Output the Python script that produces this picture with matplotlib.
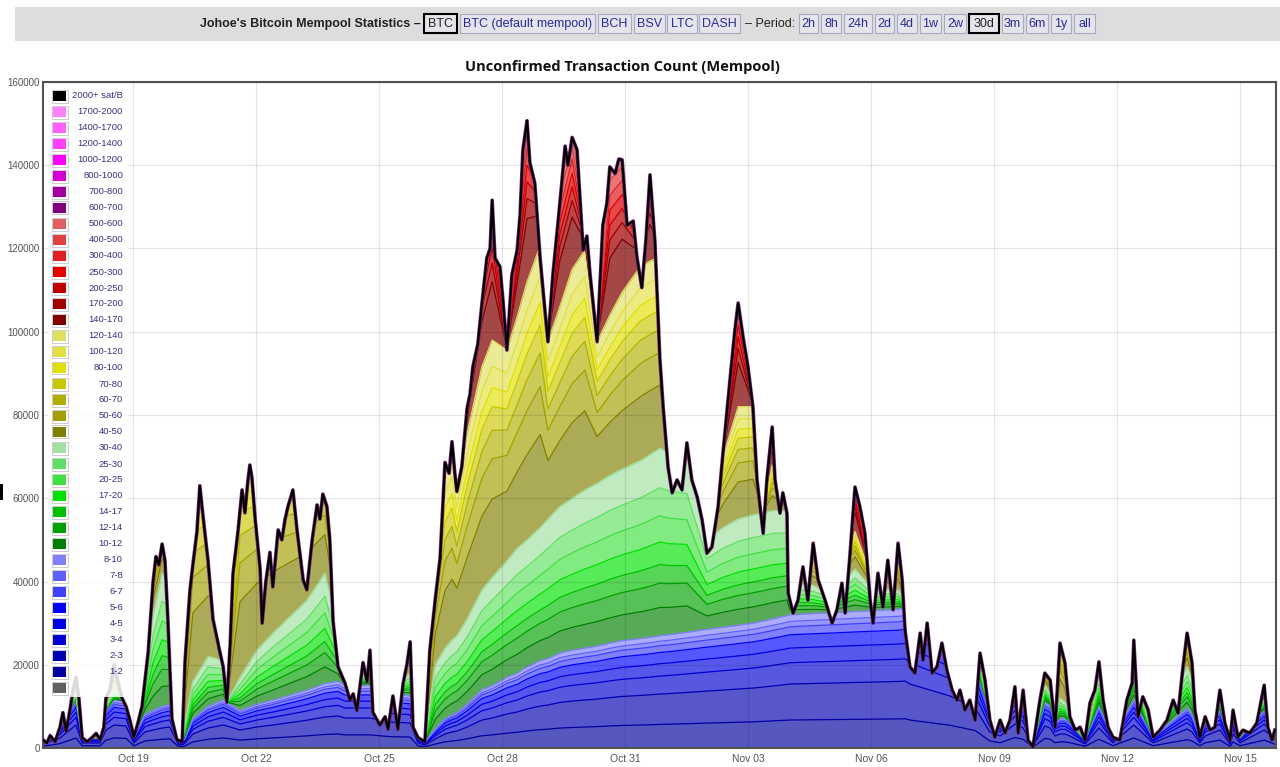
import numpy as np
import datetime as dt
import matplotlib
matplotlib.use("Agg")
import matplotlib.pyplot as plt
import matplotlib.dates as mdates
from matplotlib.patches import Rectangle
from matplotlib.colors import to_rgb

plt.rcParams['font.family'] = ['Liberation Sans', 'DejaVu Sans']

# ---------------- data ----------------
start = dt.datetime(2020, 10, 16)

legend_labels = ['2000+ sat/B', '1700-2000', '1400-1700', '1200-1400', '1000-1200', '800-1000',
                 '700-800', '600-700', '500-600', '400-500', '300-400', '250-300', '200-250',
                 '170-200', '140-170', '120-140', '100-120', '80-100', '70-80', '60-70', '50-60',
                 '40-50', '30-40', '25-30', '20-25', '17-20', '14-17', '12-14', '10-12', '8-10',
                 '7-8', '6-7', '5-6', '4-5', '3-4', '2-3', '1-2', '']
band_colors = ['#000000', '#ff80ff', '#ff60ff', '#ff40ff', '#ff00ff', '#d000d0', '#a000a0', '#800080',
               '#e06060', '#e04040', '#e02020', '#e00000', '#c00000', '#a00000', '#800000',
               '#e0e060', '#e0e040', '#e0e000', '#c8c800', '#b0b000', '#a0a000', '#808000',
               '#a0e0a0', '#60e060', '#40e040', '#00e000', '#00c000', '#00a000', '#008000',
               '#8080ff', '#6060ff', '#4040ff', '#0000ff', '#0000e0', '#0000d0', '#0000b0', '#0000a0',
               '#606060']

# total unconfirmed transactions (days since Oct 16 00:00)
total_days = [0.80, 0.90, 0.98, 1.10, 1.22, 1.29, 1.37, 1.46, 1.54, 1.61, 1.68, 1.76, 1.88, 2.00, 2.10,
              2.20, 2.29, 2.34, 2.44, 2.54, 2.63, 2.73, 2.83, 2.93, 3.02, 3.12, 3.22, 3.37, 3.49, 3.56,
              3.63, 3.71, 3.78, 3.85, 3.95, 4.07, 4.20, 4.27, 4.39, 4.46, 4.56, 4.63, 4.71, 4.83, 4.95,
              5.12, 5.20, 5.29, 5.37, 5.44, 5.56, 5.66, 5.73, 5.80, 5.85, 5.90, 5.98, 6.10, 6.15, 6.24,
              6.34, 6.41, 6.54, 6.63, 6.71, 6.78, 6.90, 7.00, 7.15, 7.24, 7.37, 7.49, 7.56, 7.63, 7.73,
              7.80, 7.88, 8.00, 8.17, 8.29, 8.37, 8.46, 8.61, 8.71, 8.78, 8.85, 9.02, 9.15, 9.22, 9.34,
              9.46, 9.59, 9.68, 9.76, 9.83, 9.95, 10.12, 10.24, 10.37, 10.49, 10.61, 10.71, 10.78, 10.85,
              10.90, 11.02, 11.15, 11.22, 11.29, 11.41, 11.51, 11.63, 11.71, 11.76, 11.83, 11.95, 12.02,
              12.12, 12.24, 12.37, 12.44, 12.51, 12.61, 12.68, 12.80, 12.93, 13.02, 13.12, 13.24, 13.41,
              13.54, 13.61, 13.71, 13.83, 13.98, 14.07, 14.15, 14.32, 14.46, 14.56, 14.63, 14.76, 14.85,
              14.93, 15.05, 15.20, 15.29, 15.41, 15.51, 15.61, 15.73, 15.85, 15.93, 16.05, 16.15, 16.27,
              16.39, 16.51, 16.63, 16.76, 16.88, 17.00, 17.12, 17.27, 17.39, 17.56, 17.68, 17.76, 17.88,
              18.00, 18.12, 18.22, 18.37, 18.46, 18.59, 18.66, 18.78, 18.85, 18.95, 18.98, 19.10, 19.22,
              19.34, 19.46, 19.59, 19.71, 19.88, 20.05, 20.17, 20.29, 20.37, 20.49, 20.61, 20.73, 20.85,
              20.98, 21.05, 21.17, 21.29, 21.41, 21.54, 21.66, 21.76, 21.83, 21.95, 22.07, 22.20, 22.27,
              22.37, 22.49, 22.61, 22.73, 22.85, 22.98, 23.10, 23.17, 23.29, 23.41, 23.54, 23.66, 23.78,
              23.90, 24.02, 24.15, 24.27, 24.39, 24.51, 24.59, 24.71, 24.83, 24.95, 25.12, 25.24, 25.37,
              25.49, 25.61, 25.73, 25.85, 25.98, 26.10, 26.22, 26.34, 26.46, 26.56, 26.66, 26.78, 26.90,
              27.07, 27.24, 27.37, 27.41, 27.51, 27.63, 27.76, 27.88, 28.05, 28.22, 28.37, 28.49, 28.61,
              28.71, 28.83, 28.90, 29.02, 29.15, 29.27, 29.39, 29.51, 29.63, 29.76, 29.83, 29.95, 30.07,
              30.24, 30.41, 30.59, 30.68, 30.78, 30.85]
total_count = [2000, 1200, 3000, 1500, 5000, 8500, 4000, 9000, 14000, 17000, 12000, 2500, 1500, 2500, 3500,
               2000, 5000, 12000, 14000, 20000, 16000, 12000, 10000, 6500, 2600, 6000, 10000, 23000, 40000, 46000,
               44000, 49000, 45000, 31000, 7000, 2000, 1500, 21000, 38000, 44000, 52000, 63000, 55500, 45000, 31000,
               23000, 19500, 11000, 25000, 42000, 52000, 62000, 56500, 64000, 68000, 65000, 55000, 43000, 30000, 40000,
               47000, 38700, 52400, 50000, 55000, 58000, 62000, 52400, 40400, 38000, 50000, 58400, 55000, 61000, 58000,
               50000, 30500, 19500, 15600, 11500, 13000, 9000, 20500, 16000, 23500, 8600, 5500, 7500, 4500, 12500,
               4500, 15600, 20000, 25500, 5000, 2500, 1500, 23500, 35500, 45600, 68600, 66000, 73600, 66000,
               61600, 67600, 81700, 85000, 91600, 97000, 106700, 117700, 120000, 131600, 117700, 115600, 108000,
               95600, 113600, 119600, 128000, 143700, 150700, 140600, 135700, 117700, 108000, 97600, 113600, 130700,
               144600, 140000, 146700, 143700, 119600, 123000, 113600, 97600, 125600, 131000, 139600, 138000, 141500,
               141300, 125600, 126600, 118000, 110600, 122000, 137700, 121600, 93600, 82000, 67500, 61300, 64400,
               62000, 73300, 64400, 60300, 54800, 46800, 48300, 57900, 70900, 88400, 100400, 106900, 98700,
               91500, 81900, 64400, 51600, 64400, 77100, 64400, 56400, 61300, 56400, 37200, 32400, 35500,
               43500, 35500, 49200, 40400, 35500, 30000, 33200, 39600, 32400, 46800, 62700, 57900, 51600,
               35500, 30000, 42000, 33900, 45100, 33200, 49200, 40400, 28300, 19500, 18000, 27600, 21100,
               30000, 18000, 19500, 25200, 18700, 13900, 11500, 13900, 9100, 11500, 6700, 22800, 16300,
               6700, 2600, 6700, 3600, 6700, 14700, 3600, 13900, 1900, 300, 11500, 18000, 16300,
               5000, 25200, 20400, 7500, 4300, 5000, 1900, 10800, 13900, 20700, 11500, 5000, 2600,
               1900, 11500, 15600, 25900, 7500, 12300, 9100, 2600, 4300, 6700, 11500, 8400, 19500,
               27600, 20400, 9100, 2600, 7500, 4300, 5000, 13900, 6000, 1900, 9100, 2600, 4300,
               3600, 6000, 15100, 5000, 1900, 4300]

# cumulative tops of the fee groups (blue <10, green <40, yellow <140, red <600 sat/B)
layer_days = [0.80, 1.22, 1.61, 1.76, 2.20, 2.34, 2.54, 2.83, 3.02, 3.29, 3.49, 3.71, 3.90, 4.10, 4.20,
              4.27, 4.46, 4.83, 5.20, 5.29, 5.61, 6.02, 6.41, 7.24, 7.68, 8.00, 8.17, 8.78, 9.27, 9.76,
              9.95, 10.12, 10.37, 10.61, 10.78, 10.90, 11.15, 11.51, 11.76, 12.12, 12.37, 12.61, 12.93,
              13.12, 13.41, 13.71, 14.02, 14.32, 14.63, 14.93, 15.37, 15.61, 15.85, 16.05, 16.51, 17.00,
              17.39, 17.76, 18.12, 18.37, 18.59, 18.95, 19.02, 19.59, 20.05, 20.61, 21.05, 21.66, 21.83,
              21.95, 22.93, 23.54, 23.66, 23.90, 24.15, 24.51, 24.71, 24.95, 25.24, 25.37, 25.49, 25.61,
              25.73, 25.85, 26.22, 26.56, 26.90, 27.41, 27.88, 28.71, 28.83, 29.02, 29.15, 29.51, 29.76,
              29.83, 30.00, 30.59, 30.85]
blue_top = [2000, 5000, 11500, 2500, 2500, 9000, 11500, 11000, 2600, 8000, 9000, 10000, 10500, 1800, 1500,
            2500, 7000, 10000, 11500, 11000, 9000, 10500, 11500, 13900, 15500, 16000, 15000, 15000, 13000, 12500,
            2500, 1500, 4500, 7000, 8000, 8500, 10500, 14000, 15000, 17000, 18000, 19500, 21000,
            21500, 22800, 23500, 24000, 24500, 25200, 25800, 26300, 26600, 27000, 27200, 27800, 28500,
            29000, 29500, 30000, 30500, 31000, 31800, 32000, 32300, 32500, 32800, 33000, 33300, 33500,
            32000, 26000, 20000, 16000, 8000, 6000, 12000, 10000, 1000, 11000, 10000, 6000, 7000,
            7000, 6000, 2000, 10000, 2600, 11500, 2600, 9500, 8000, 2600, 6000, 9000, 1900,
            7000, 2600, 9000, 4300]
green_top = [2000, 5500, 13000, 2500, 2500, 10000, 14000, 12000, 2600, 16000, 32000, 42000, 40000, 1800, 1500,
             6000, 16000, 22000, 21000, 11000, 17000, 23500, 27600, 35500, 42000, 28000, 17000, 18000, 14000, 18000,
             2500, 1500, 20000, 24000, 26000, 27000, 31000, 38000, 41000, 45000, 48000, 50000, 53000,
             55000, 58000, 60000, 62000, 63600, 65500, 67000, 69000, 70500, 72000, 71000, 70000, 50000,
             53000, 55000, 56000, 56500, 57000, 57000, 40000, 39000, 37000, 43000, 38000, 38000, 35000,
             33000, 27000, 21000, 20000, 8500, 6500, 14000, 11000, 1000, 15000, 13000, 6500, 12000,
             11000, 7000, 2000, 17000, 2600, 20000, 2600, 19500, 16000, 2600, 6500, 12000, 1900,
             8000, 2600, 12000, 4300]
yellow_top = [3000, 9500, 18000, 3000, 3000, 12500, 21000, 14000, 4000, 24000, 44000, 52000, 50000, 2500, 2000,
              22000, 66000, 66000, 66000, 12000, 72000, 72000, 72000, 70000, 70000, 40000, 22000, 25000, 17000, 27000,
              3000, 1800, 42000, 66000, 70000, 61600, 75600, 91600, 98000, 95600, 103600, 112000, 120600,
              97600, 106000, 115000, 119600, 97600, 104000, 109500, 115600, 117000, 118000, 75000, 73000, 52000,
              70000, 82000, 82000, 57000, 68000, 60000, 42000, 46000, 40000, 52000, 40000, 46000, 36000,
              34000, 28000, 22000, 24000, 9000, 8000, 16000, 14500, 1500, 19000, 17000, 7000, 26000,
              21000, 8000, 2500, 22000, 3000, 27000, 3000, 26000, 21000, 3000, 8000, 14500, 2500,
              9500, 3000, 16000, 5000]
red_top = [3000, 9500, 18000, 3000, 3000, 12500, 21000, 14000, 4000, 24000, 44000, 52000, 50000, 2500, 2000,
           22000, 66000, 66000, 66000, 12000, 72000, 72000, 72000, 70000, 70000, 40000, 22000, 25000, 17000, 27000,
           3000, 1800, 42000, 70000, 76000, 62000, 85000, 120000, 135000, 97000, 125000, 152000, 140000,
           99000, 135000, 148000, 125000, 99000, 140000, 143000, 125000, 140000, 125000, 76000, 75000, 52000,
           72000, 110000, 84000, 57000, 80000, 62000, 42000, 50000, 40000, 64000, 40000, 50000, 36000,
           34000, 28000, 22000, 24000, 9000, 8000, 16000, 14500, 1500, 19000, 17000, 7000, 26000,
           21000, 8000, 2500, 22000, 3000, 27000, 3000, 28000, 21000, 3000, 8000, 14500, 2500,
           9500, 3000, 16000, 5000]

# cumulative share of each fee band inside its group (bottom -> top)
blue_shares = [0.005, 0.21, 0.48, 0.64, 0.75, 0.85, 0.91, 0.95, 1.0]     # 0-1 .. 8-10
green_shares = [0.15, 0.28, 0.38, 0.50, 0.64, 0.79, 1.0]               # 10-12 .. 30-40
yellow_shares = [0.33, 0.50, 0.62, 0.72, 0.80, 0.89, 1.0]              # 40-50 .. 120-140
red_shares = [0.38, 0.50, 0.60, 0.70, 0.80, 0.90, 1.0]                 # 140-170 .. 500-600

y_ticks = [0, 20000, 40000, 60000, 80000, 100000, 120000, 140000, 160000]
x_tick_dates = ['2020-10-19', '2020-10-22', '2020-10-25', '2020-10-28', '2020-10-31',
                '2020-11-03', '2020-11-06', '2020-11-09', '2020-11-12', '2020-11-15']
x_tick_labels = ['Oct 19', 'Oct 22', 'Oct 25', 'Oct 28', 'Oct 31',
                 'Nov 03', 'Nov 06', 'Nov 09', 'Nov 12', 'Nov 15']
x_range_days = [0.805, 30.878]

coins = ['BTC', 'BTC (default mempool)', 'BCH', 'BSV', 'LTC', 'DASH']
periods = ['2h', '8h', '24h', '2d', '4d', '1w', '2w', '30d', '3m', '6m', '1y', 'all']

# ---------------- figure ----------------
W, H = 1280, 767
fig = plt.figure(figsize=(W / 100, H / 100), dpi=100)
fig.patch.set_facecolor('white')


def fx(x):
    return x / W


def fy(y):
    return 1 - y / H


def soft(c, a=0.66):
    r = np.array(to_rgb(c))
    return tuple(1 - a + a * r)


ax = fig.add_axes([fx(43), fy(748), (1276 - 43) / W, (748 - 82) / H])

t0 = mdates.date2num(start)
TT = t0 + np.array(total_days)
TL = t0 + np.array(layer_days)
total = np.array(total_count, float)

B = np.array(blue_top, float)
G = np.array(green_top, float)
Y = np.array(yellow_top, float)
R = np.array(red_top, float)
cum = [B * s for s in blue_shares]
cum += [B + (G - B) * s for s in green_shares]
cum += [G + (Y - G) * s for s in yellow_shares]
cum += [Y + (R - Y) * s for s in red_shares]
colors_up = band_colors[::-1]  # bottom -> top

base = ax.fill_between(TT, 0, total, color=soft(colors_up[29], 0.72), lw=0, zorder=1)
clip = base.get_paths()[0]

for i in range(len(cum) - 1, -1, -1):
    a = 0.72 if i >= 23 else 0.66
    f = ax.fill_between(TL, 0, cum[i], color=soft(colors_up[i], a), lw=0, zorder=1)
    f.set_clip_path(clip, ax.transData)
for i in range(1, len(cum)):
    ln, = ax.plot(TL, cum[i], color=colors_up[i], lw=0.9, zorder=1.5)
    ln.set_clip_path(clip, ax.transData)

ax.plot(TT, total, color='#7a2a7a', lw=2.6, zorder=3, solid_joinstyle='round')
ax.plot(TT, total, color='black', lw=1.6, zorder=3.1, solid_joinstyle='round')

ax.set_xlim(t0 + x_range_days[0], t0 + x_range_days[1])
ax.set_ylim(0, 160000)
ax.set_yticks(y_ticks)
ax.set_yticklabels([str(v) for v in y_ticks])
ax.set_xticks([mdates.date2num(dt.datetime.strptime(d, '%Y-%m-%d')) for d in x_tick_dates])
ax.set_xticklabels(x_tick_labels)
ax.tick_params(axis='both', length=0, colors='#545454')
ax.tick_params(axis='y', labelsize=7, pad=2.5)
ax.tick_params(axis='x', labelsize=7.5, pad=4)
ax.grid(True, color='black', alpha=0.1, lw=0.9)
ax.set_axisbelow(False)
for sp in ax.spines.values():
    sp.set_color('#545454')
    sp.set_linewidth(1.5)

# title
fig.text(fx(622), fy(67), 'Unconfirmed Transaction Count (Mempool)', ha='center', va='center',
         fontsize=10.5, fontweight='bold', family=['Open Sans', 'DejaVu Sans'], color='#111111')

# header bar
fig.add_artist(Rectangle((fx(15), fy(41)), (W - 15) / W, 34 / H, transform=fig.transFigure,
                         fc='#dddddd', ec='none', zorder=0))
fig.text(fx(421), fy(24), "Johoe's Bitcoin Mempool Statistics \u2013", ha='right', va='center',
         fontsize=9.0, fontweight='bold', color='#222222')
coin_boxes = [(424, 457), (460, 595), (598, 631), (634, 665), (667, 697), (699, 740)]
period_boxes = [(799, 818), (821, 841), (844, 872), (875, 894), (897, 917), (920, 941), (944, 966),
                (969, 999), (1002, 1023), (1026, 1048), (1051, 1071), (1074, 1095)]
fig.text(fx(745), fy(24), '\u2013 Period:', ha='left', va='center', fontsize=9.0, color='#222222')


def button(label, l, r, sel):
    fig.add_artist(Rectangle((fx(l), fy(33)), (r - l) / W, 19 / H, transform=fig.transFigure,
                             fc='#e4e4ea', ec='black' if sel else '#a9a9c6',
                             lw=1.5 if sel else 0.8, zorder=1))
    fig.text(fx((l + r) / 2), fy(24), label, ha='center', va='center', fontsize=9.0,
             color='#222222' if sel else '#2b2b9a', zorder=2)


for lab, (l, r) in zip(coins, coin_boxes):
    button(lab, l, r, lab == 'BTC')
for lab, (l, r) in zip(periods, period_boxes):
    button(lab, l, r, lab == '30d')

# legend (inside plot, top-left)
fig.add_artist(Rectangle((fx(48), fy(697)), 80 / W, 610 / H, transform=fig.transFigure,
                         fc='white', alpha=0.85, ec='none', zorder=5))
for i, (lab, col) in enumerate(zip(legend_labels, band_colors)):
    yc = 96 + 16 * i
    fig.add_artist(Rectangle((fx(51.5), fy(yc + 6.5)), 16 / W, 13 / H, transform=fig.transFigure,
                             fc='white', ec='#cccccc', lw=0.7, zorder=6))
    fig.add_artist(Rectangle((fx(53), fy(yc + 5)), 13 / W, 10 / H, transform=fig.transFigure,
                             fc=col, ec='none', zorder=7))
    if lab:
        fig.text(fx(123), fy(yc), lab, ha='right', va='center', fontsize=6.8,
                 color='#33337f', zorder=7)

# small page mark at the left edge
fig.add_artist(Rectangle((0, fy(500)), 3 / W, 16 / H, transform=fig.transFigure,
                         fc='black', ec='none', zorder=5))

fig.savefig('out.png', dpi=100)
